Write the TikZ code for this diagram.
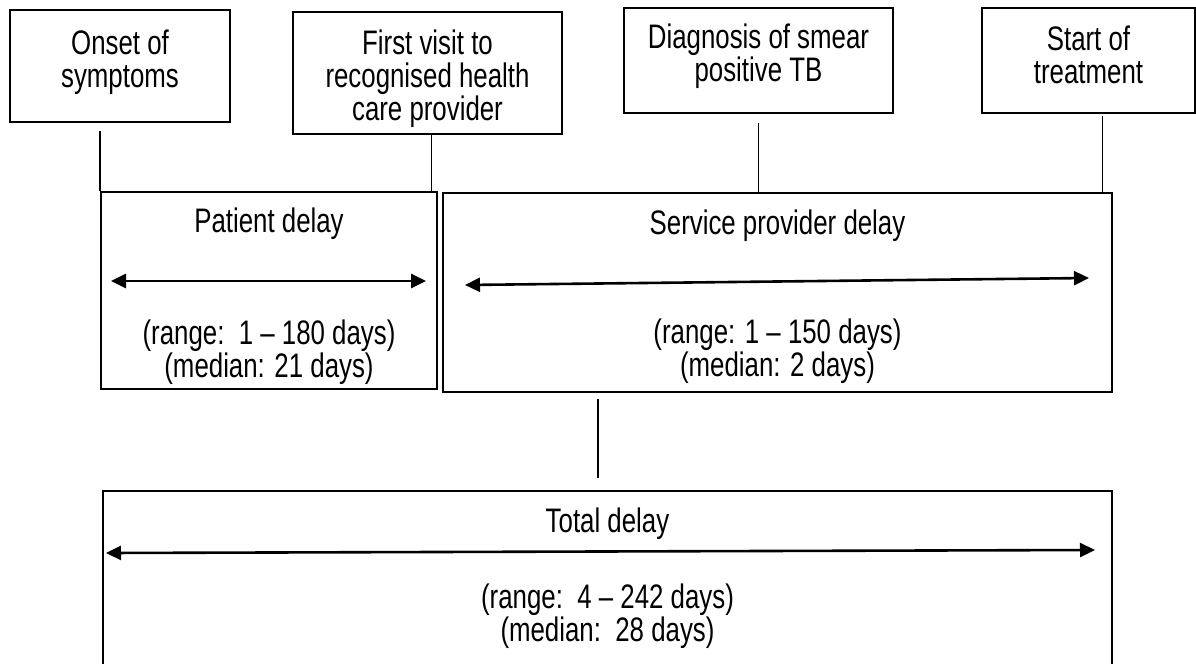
\documentclass[tikz,border=0pt]{standalone}
\usepackage{fontspec}
\setmainfont{Liberation Sans}[FakeStretch=0.76]
\usetikzlibrary{arrows.meta}

\tikzset{
  event/.style={draw,line width=1pt,inner sep=0pt},
  delaybox/.style={draw,line width=1pt,inner sep=0pt},
  head/.style={align=center,inner sep=0pt,anchor=north},
  note/.style={align=center,inner sep=0pt,anchor=base},
  span/.style={{Triangle[length=7.5pt,width=7pt]}-{Triangle[length=7.5pt,width=7pt]},line width=1.3pt},
  link/.style={line width=0.8pt}
}

\begin{document}
\begin{tikzpicture}[x=0.5pt,y=-0.5pt,font=\fontsize{17}{16.5}\selectfont]
\useasboundingbox (0,0) rectangle (1196,664);

\node[event,minimum width=110pt,minimum height=56pt](onset) at (120,66){};
\node[event,minimum width=134.5pt,minimum height=61pt](visit) at (427.5,73){};
\node[event,minimum width=134.5pt,minimum height=52.5pt](diag) at (758.5,60.5){};
\node[event,minimum width=106.5pt,minimum height=52.5pt](start) at (1088.5,60.5){};

\node[head](onsettext) at ([yshift=-10pt]onset.north){Onset of\\symptoms};
\node[head](visittext) at ([yshift=-9pt]visit.north){First visit to\\recognised health\\care provider};
\node[head](diagtext) at ([yshift=-8pt]diag.north){Diagnosis of smear\\positive TB};
\node[head](starttext) at ([yshift=-9pt]start.north){Start of\\treatment};

\node[delaybox,minimum width=168pt,minimum height=98.5pt](patient) at (269,290.5){};
\node[delaybox,minimum width=334.5pt,minimum height=99.5pt](service) at (777.5,292.5){};
\node[delaybox,minimum width=504.5pt,minimum height=92pt](total) at (607.5,583){};
\coordinate (mid) at (598,0);

\node[note](ptitle) at ([yshift=-20.5pt]patient.north){Patient delay};
\node[note](pstats) at ([yshift=-93pt]patient.north){(range:\ \ 1 -- 180 days)\\(median: 21 days)};
\node[note](stitle) at ([yshift=-21pt]service.north){Service provider delay};
\node[note](sstats) at ([yshift=-92pt]service.north){(range: 1 -- 150 days)\\(median: 2 days)};
\node[note](ttitle) at ([yshift=-21pt]total.north){Total delay};
\node[note](tstats) at ([yshift=-75.5pt]total.north){(range:\ \ 4 -- 242 days)\\(median:\ \ 28 days)};

\draw[span] ([xshift=5.5pt,yshift=-45pt]patient.north west) -- ([xshift=-6pt,yshift=-45pt]patient.north east);
\draw[span] ([xshift=11.5pt,yshift=-46.5pt]service.north west) -- ([xshift=-12pt,yshift=-43pt]service.north east);
\draw[span] ([xshift=2pt,yshift=-31.5pt]total.north west) -- ([xshift=-9pt,yshift=-30pt]total.north east);

\draw[link] ([yshift=-4pt]onset.south -| patient.north west) -- (patient.north west);
\draw[link] ([xshift=2pt]visit.south) -- ([xshift=2pt]visit.south |- patient.north);
\draw[link] ([yshift=-4.5pt]diag.south) -- (diag.south |- service.north);
\draw[link] ([xshift=7pt,yshift=-1pt]start.south) -- ([xshift=7pt]start.south |- service.north);
\draw[link] ([yshift=-3pt]service.south -| mid) -- ([yshift=6pt]total.north -| mid);

\end{tikzpicture}
\end{document}
